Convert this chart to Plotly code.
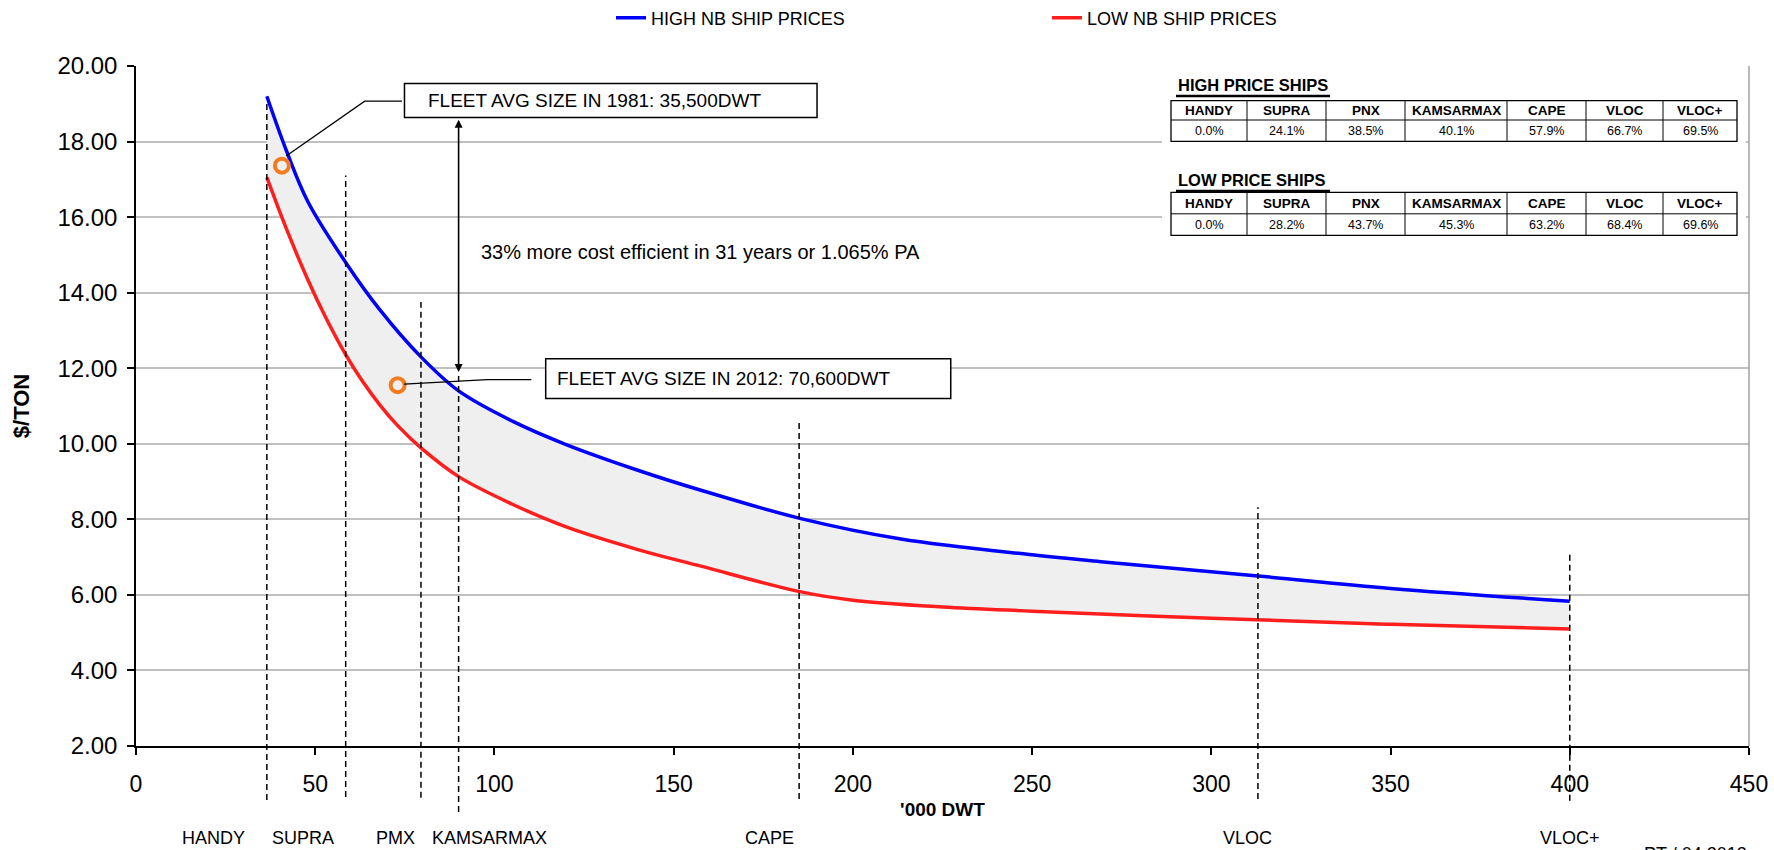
import plotly.graph_objects as go

# ---------------- data ----------------
high_x = [36.5, 42, 48, 58.5, 68, 79.5, 90, 105, 120, 140, 157.6, 185.5, 213.4, 250, 269.2, 313, 350, 400]
high_y = [19.2, 17.75, 16.4, 14.8, 13.55, 12.3, 11.4, 10.6, 9.98, 9.3, 8.77, 8.02, 7.48, 7.06, 6.88, 6.5, 6.17, 5.83]
low_x = [36.5, 42, 48, 53, 58.5, 63, 68, 73, 79.5, 90, 105, 120, 140, 157.6, 185.5, 200, 225, 250, 300, 350, 400]
low_y = [17.05, 15.68, 14.33, 13.33, 12.36, 11.68, 11.03, 10.48, 9.89, 9.13, 8.4, 7.8, 7.2, 6.76, 6.08, 5.86, 5.68, 5.57, 5.38, 5.22, 5.1]

fleet_x = [40.7, 73.0]
fleet_y = [17.36, 11.55]

seg_names = ["HANDY", "SUPRA", "PMX", "KAMSARMAX", "CAPE", "VLOC", "VLOC+"]
seg_dwt = [36.5, 58.5, 79.5, 90, 185, 313, 400]
seg_top = [19.05, 17.1, 13.75, 11.8, 10.57, 8.32, 7.13]
seg_bottom = [0.57, 0.65, 0.63, 0.25, 0.6, 0.6, 0.55]
seg_label_x = [21.6, 46.7, 72.4, 98.6, 176.7, 310, 400.2]

table_cols = ["HANDY", "SUPRA", "PNX", "KAMSARMAX", "CAPE", "VLOC", "VLOC+"]
high_pct = [0.0, 24.1, 38.5, 40.1, 57.9, 66.7, 69.5]
low_pct = [0.0, 28.2, 43.7, 45.3, 63.2, 68.4, 69.6]

y_ticks = [2, 4, 6, 8, 10, 12, 14, 16, 18, 20]

# ---------------- layout helpers ----------------
W, H = 1774, 850
ML, MR, MT, MB = 136, 25, 66, 104
PX0, PX1 = ML, W - MR
PY1, PY0 = MT, H - MB
YMIN, YMAX = 2, 20
FONT = "Arial, Liberation Sans, sans-serif"


def px(x):
    return (x - PX0) / (PX1 - PX0)


def py(y):
    return (PY0 - y) / (PY0 - PY1)


def vpaper(v):
    return (v - YMIN) / (YMAX - YMIN)


fig = go.Figure()

# shaded band between the curves
fig.add_trace(go.Scatter(x=low_x, y=low_y, mode="lines", line=dict(width=0, shape="spline"),
                         showlegend=False, hoverinfo="skip"))
fig.add_trace(go.Scatter(x=high_x, y=high_y, mode="lines", line=dict(width=0, shape="spline"),
                         fill="tonexty", fillcolor="#efefef", showlegend=False, hoverinfo="skip"))

fig.add_trace(go.Scatter(x=high_x, y=high_y, mode="lines", name="HIGH NB SHIP PRICES",
                         line=dict(color="#0000FF", width=3.5, shape="spline")))
fig.add_trace(go.Scatter(x=low_x, y=low_y, mode="lines", name="LOW NB SHIP PRICES",
                         line=dict(color="#FF1E1E", width=3.5, shape="spline")))
fig.add_trace(go.Scatter(x=fleet_x, y=fleet_y, mode="markers", showlegend=False,
                         marker=dict(symbol="circle-open", size=14, color="#F47C20",
                                     line=dict(width=4, color="#F47C20"))))

shapes = []
annotations = []

# segment dashed lines
for name, xv, top, bot, lx in zip(seg_names, seg_dwt, seg_top, seg_bottom, seg_label_x):
    shapes.append(dict(type="line", xref="x", yref="paper", x0=xv, x1=xv,
                       y0=vpaper(bot), y1=vpaper(top),
                       line=dict(color="black", width=1.5, dash="6px,4px")))
    annotations.append(dict(xref="x", yref="paper", x=lx, y=py(838), text=name,
                            showarrow=False, xanchor="center", yanchor="middle",
                            font=dict(family=FONT, size=18, color="black")))

# right border
shapes.append(dict(type="line", xref="paper", yref="paper", x0=1, x1=1, y0=0, y1=1,
                   line=dict(color="#a0a0a0", width=1.5)))

# callout boxes
shapes.append(dict(type="rect", xref="x", yref="y", x0=74.9, x1=190, y0=18.64, y1=19.54,
                   line=dict(color="black", width=1.5), fillcolor="white"))
shapes.append(dict(type="rect", xref="x", yref="y", x0=114.3, x1=227.3, y0=11.2, y1=12.25,
                   line=dict(color="black", width=1.5), fillcolor="white"))
shapes.append(dict(type="path", xref="x", yref="y",
                   path="M 41.9,17.62 L 63.8,19.07 L 74.2,19.07",
                   line=dict(color="black", width=1.3)))
shapes.append(dict(type="path", xref="x", yref="y",
                   path="M 74.8,11.58 L 98.0,11.7 L 110.3,11.7",
                   line=dict(color="black", width=1.3)))
annotations.append(dict(xref="x", yref="y", x=80.8, y=19.1, xanchor="left", yanchor="middle",
                        text="FLEET AVG SIZE IN 1981: 35,500DWT", showarrow=False,
                        font=dict(family=FONT, size=19, color="black")))
annotations.append(dict(xref="x", yref="y", x=116.9, y=11.72, xanchor="left", yanchor="middle",
                        text="FLEET AVG SIZE IN 2012: 70,600DWT", showarrow=False,
                        font=dict(family=FONT, size=19, color="black")))
annotations.append(dict(xref="x", yref="y", x=95.7, y=15.07, xanchor="left", yanchor="middle",
                        text="33% more cost efficient in 31 years or 1.065% PA", showarrow=False,
                        font=dict(family=FONT, size=20, color="black")))
# double-headed arrow
annotations.append(dict(xref="x", yref="y", x=90, y=11.9, ax=90, ay=18.62, axref="x", ayref="y",
                        text="", showarrow=True, arrowhead=2, startarrowhead=2, arrowside="end+start",
                        arrowsize=1, startarrowsize=1, arrowwidth=1.6, arrowcolor="black",
                        standoff=0, startstandoff=0))

# tables
shapes.append(dict(type="rect", xref="paper", yref="paper", x0=px(1162), x1=px(1746),
                   y0=py(242), y1=py(70), fillcolor="white", line=dict(width=0)))
cols_px = [1171, 1247, 1326, 1405, 1507, 1586, 1663, 1737]


def draw_table(title, values, title_y, rows):
    annotations.append(dict(xref="paper", yref="paper", x=px(1176), y=py(title_y), text="<b>" + title + "</b>",
                            showarrow=False, xanchor="left", yanchor="middle",
                            font=dict(family=FONT, size=16.5, color="black")))
    shapes.append(dict(type="line", xref="paper", yref="paper", x0=px(1176), x1=px(1330),
                       y0=py(title_y + 11), y1=py(title_y + 11), line=dict(color="black", width=2.5)))
    shapes.append(dict(type="rect", xref="paper", yref="paper", x0=px(cols_px[0]), x1=px(cols_px[-1]),
                       y0=py(rows[2]), y1=py(rows[0]), line=dict(color="black", width=1.3)))
    shapes.append(dict(type="line", xref="paper", yref="paper", x0=px(cols_px[0]), x1=px(cols_px[-1]),
                       y0=py(rows[1]), y1=py(rows[1]), line=dict(color="black", width=1)))
    for cx in cols_px[1:-1]:
        shapes.append(dict(type="line", xref="paper", yref="paper", x0=px(cx), x1=px(cx),
                           y0=py(rows[2]), y1=py(rows[0]), line=dict(color="black", width=1)))
    for i, (c, v) in enumerate(zip(table_cols, values)):
        xc = (cols_px[i] + cols_px[i + 1]) / 2
        annotations.append(dict(xref="paper", yref="paper", x=px(xc), y=py((rows[0] + rows[1]) / 2),
                                text="<b>" + c + "</b>", showarrow=False, xanchor="center", yanchor="middle",
                                font=dict(family=FONT, size=13.5, color="black")))
        annotations.append(dict(xref="paper", yref="paper", x=px(xc), y=py((rows[1] + rows[2]) / 2),
                                text=f"{v:.1f}%", showarrow=False, xanchor="center", yanchor="middle",
                                font=dict(family=FONT, size=12.5, color="black")))


draw_table("HIGH PRICE SHIPS", high_pct, 85, [100.7, 120, 141.4])
draw_table("LOW PRICE SHIPS", low_pct, 180, [192.3, 213.8, 235.3])

# footer text at bottom-right (cut by the page edge in the original)
annotations.append(dict(xref="paper", yref="paper", x=px(1642), y=py(842), text="PT / 04 2013",
                        showarrow=False, xanchor="left", yanchor="top",
                        font=dict(family=FONT, size=18, color="black")))

fig.update_layout(
    width=W, height=H,
    margin=dict(l=ML, r=MR, t=MT, b=MB, autoexpand=False),
    paper_bgcolor="white", plot_bgcolor="white",
    font=dict(family=FONT, color="black"),
    shapes=shapes, annotations=annotations,
    legend=dict(orientation="h", x=px(611), y=py(18), xanchor="left", yanchor="middle",
                traceorder="normal", entrywidth=391, entrywidthmode="pixels",
                font=dict(family=FONT, size=18, color="black"), bgcolor="rgba(0,0,0,0)"),
    xaxis=dict(range=[0, 450], tick0=0, dtick=50, showgrid=False, zeroline=False,
               showline=True, linecolor="black", linewidth=1.5,
               ticks="outside", ticklen=7, tickwidth=1.5, tickcolor="black",
               tickfont=dict(family=FONT, size=23, color="black"), ticklabelstandoff=10,
               title=dict(text="<b>'000 DWT</b>", font=dict(family=FONT, size=19, color="black"), standoff=6)),
    yaxis=dict(range=[YMIN, YMAX], tickvals=y_ticks, tickformat=".2f",
               showgrid=True, gridcolor="#c0c0c0", gridwidth=1.5, zeroline=False,
               showline=True, linecolor="black", linewidth=1.5,
               ticks="outside", ticklen=7, tickwidth=1.5, tickcolor="black",
               tickfont=dict(family=FONT, size=24, color="black"), ticklabelstandoff=5,
               title=dict(text="<b>$/TON</b>", font=dict(family=FONT, size=22, color="black"), standoff=22)),
)

fig.write_html("out.html")
